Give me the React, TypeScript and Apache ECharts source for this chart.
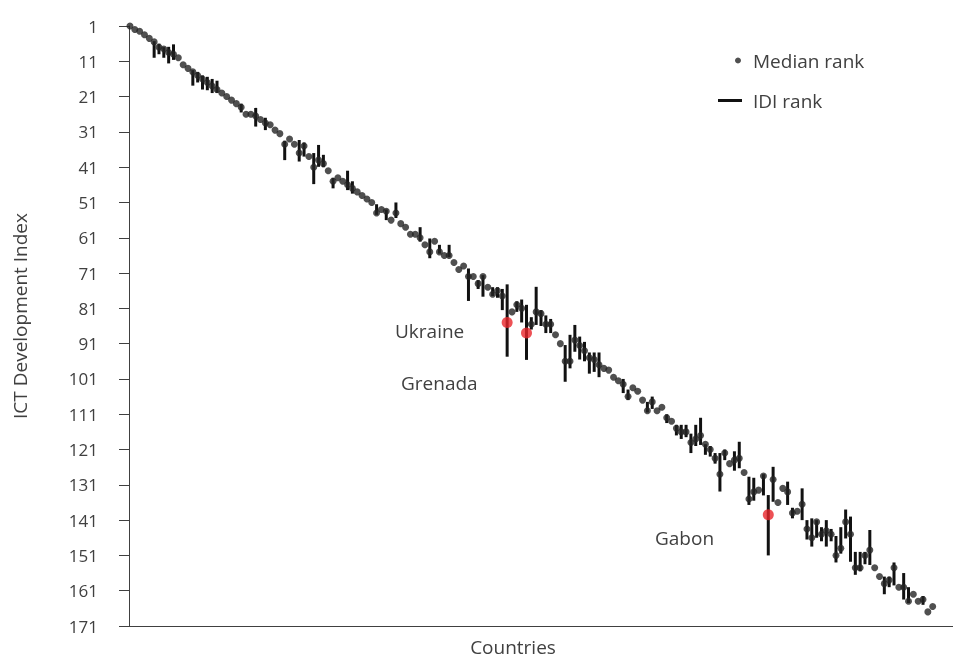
import React, { useEffect, useRef } from "react";
import * as echarts from "echarts";

// Median rank per country (countries ordered along the x axis)
const medianRank: number[] = [
  1, 2, 2.5, 3.5, 4.5, 5.5, 7, 7.5, 8.5, 9,
  10, 12, 13, 14, 15, 16, 17, 18, 19, 20,
  21, 22, 23, 24, 26, 26, 26.5, 27.5, 28.5, 29,
  30.5, 31.5, 34.5, 33, 34.5, 37, 35, 38, 41, 39,
  40, 42, 45, 44, 45, 46, 47, 48, 49, 50,
  51, 54, 53, 53.5, 56, 54, 57, 58, 60, 60,
  61, 63, 65, 62, 65, 66, 66, 68, 70, 69,
  72, 72, 74, 72, 75, 77, 76, 77.5, 85, 82,
  80, 81, 88, 85.5, 82, 82.5, 85.5, 85.5, 88.5, 91,
  96, 96, 90, 91.5, 93, 95, 95.5, 97, 98, 98.5,
  100.5, 101.5, 102.5, 106, 103.5, 104.5, 107, 110, 107.5, 110,
  109, 112, 113, 115, 116, 116, 119, 118, 117, 119.5,
  121, 123.5, 128, 122, 125, 124, 123.5, 127.5, 135, 133,
  132.5, 128.5, 139.5, 129.5, 136, 132, 133, 139, 138.5, 136.5,
  143.5, 146, 141.5, 145, 144, 145, 151, 149, 141.5, 145,
  154.5, 154.5, 151, 149.5, 154.5, 157, 159, 158, 154.5, 160,
  160, 164, 162, 164, 163.5, 167, 165.5,
];

// IDI rank range (low / high) per country, null when no bar is drawn
const idiLow: (number | null)[] = [
  null, null, null, null, null, 5.3, 6, 7, 6.9, 6.2,
  null, null, null, 13.5, 14, 15, 15.4, 16, 16.5, null,
  null, null, null, 23, null, null, 24.2, null, 27, null,
  null, null, 33.5, null, null, 33.3, 34, null, 37, 34.7,
  37.5, null, 44, null, null, 42, 45, null, null, null,
  null, 51.5, null, 53, null, 51, null, null, null, null,
  58, null, 61.2, null, 63, null, 63, null, null, null,
  69.7, null, 73, 71.6, null, 75, 75, 75.5, 74.2, null,
  79, 78.5, 80, 83.5, 74.9, 81.5, 83, 84, null, null,
  91.4, 88.5, 85.7, 89, 90.5, 93.5, 93.5, 93.5, null, null,
  null, null, 101, 104, null, null, null, 107.5, 106, null,
  null, 111, null, 114, 114, 114, 116.5, 114, 112, 119.5,
  120, 122, 122, 121, null, 121.5, 118.8, null, 128.7, 129,
  null, 128, 133.9, 125.9, null, null, 130.1, 137.5, null, 132,
  141, 140.5, 141, 143, 141, 143.5, 145.5, 143, 138, 140,
  150, 150, 150, 143.8, null, null, 157, 157, 153, null,
  156, 160, null, null, 162.5, null, null,
];
const idiHigh: (number | null)[] = [
  null, null, null, null, null, 10, 9, 10, 11.6, 10.6,
  null, null, null, 17.9, 17, 19, 19.2, 20, 20, null,
  null, null, null, 25.5, null, null, 29.5, null, 30.5, null,
  null, null, 39, null, null, 39.4, 38, null, 45.8, 40.9,
  41, null, 47, null, null, 47.5, 48.5, null, null, null,
  null, 54.5, null, 56, null, 55.4, null, null, null, null,
  62.1, null, 66.8, null, 65.5, null, 66.5, null, null, null,
  78.9, null, 75.5, 77.7, null, 77.5, 78, 81.5, 94.7, null,
  82, 85, 95.6, 87, 85.7, 86, 88, 88, null, null,
  101.8, 98, 93.3, 95.5, 96, 99.5, 99, 100.5, null, null,
  null, null, 105, 107, null, null, null, 110.5, 109.5, null,
  null, 113.5, null, 117, 118, 117.5, 122, 120, 119.7, 122.5,
  123, 125, 132.9, 124, null, 127, 126.3, null, 136.7, 135.5,
  null, 134, 151, 135.8, null, null, 136.7, 140.5, null, 141,
  146.5, 148.5, 146, 147, 148.5, 147, 153, 150.5, 146.2, 152.8,
  156.5, 155.5, 153.5, 153.7, null, null, 162, 160, 159.5, null,
  163.5, 164.5, null, null, 165, null, null,
];

// Highlighted countries (1-based position on the x axis)
const highlightNames: string[] = ["Ukraine", "Grenada", "Gabon"];
const highlightIndex: number[] = [79, 83, 133];

const yTickMin = 1;
const yTickMax = 171;
const yTickStep = 10;

const TEXT = "#404040";
const FONT = "Open Sans";

export default function App() {
  const ref = useRef<HTMLDivElement>(null);

  useEffect(() => {
    if (!ref.current) return;
    const chart = echarts.init(ref.current, undefined, { renderer: "svg" });

    const dots: number[][] = [];
    const reds: number[][] = [];
    const bars: number[][] = [];
    medianRank.forEach((m, k) => {
      const i = k + 1;
      if (highlightIndex.includes(i)) reds.push([i, m]);
      else dots.push([i, m]);
      const lo = idiLow[k];
      const hi = idiHigh[k];
      if (lo != null && hi != null) bars.push([i, lo, hi]);
    });

    const labelPos: Record<string, [number, number]> = {
      Ukraine: [395, 331],
      Grenada: [401, 383],
      Gabon: [655, 538],
    };

    const txt = { fontFamily: FONT, fontSize: 19, fontWeight: 400, fill: TEXT };

    chart.setOption({
      animation: false,
      textStyle: { fontFamily: FONT, color: TEXT },
      grid: { left: 129, right: 0, top: 26, bottom: 35, containLabel: false },
      xAxis: {
        type: "value",
        min: 0.8,
        max: 171.2,
        axisLine: { show: true, lineStyle: { color: TEXT, width: 1 } },
        axisTick: { show: false },
        axisLabel: { show: false },
        splitLine: { show: false },
      },
      yAxis: {
        type: "value",
        inverse: true,
        min: yTickMin,
        max: yTickMax,
        interval: yTickStep,
        axisLine: { show: true, lineStyle: { color: TEXT, width: 1 } },
        axisTick: { show: true, length: 10, lineStyle: { color: TEXT } },
        axisLabel: {
          margin: 31,
          color: TEXT,
          fontFamily: FONT,
          fontSize: 17,
          fontWeight: 400,
        },
        splitLine: { show: false },
      },
      legend: [
        {
          data: [{ name: "Median rank", icon: "circle" }],
          left: 735,
          top: 51,
          padding: 0,
          itemWidth: 6,
          itemHeight: 6,
          textStyle: { color: TEXT, fontFamily: FONT, fontSize: 19, fontWeight: 400, padding: [0, 0, 0, 7] },
        },
        {
          data: [{ name: "IDI rank", icon: "rect" }],
          left: 718,
          top: 91,
          padding: 0,
          itemWidth: 24,
          itemHeight: 3,
          textStyle: { color: TEXT, fontFamily: FONT, fontSize: 19, fontWeight: 400, padding: [0, 0, 0, 6] },
        },
      ],
      series: [
        {
          name: "IDI rank",
          type: "custom",
          z: 2,
          clip: false,
          itemStyle: { color: "#111111" },
          encode: { x: 0, y: [1, 2] },
          data: bars,
          renderItem: (_params: any, api: any) => {
            const x = api.value(0);
            const p1 = api.coord([x, api.value(1)]);
            const p2 = api.coord([x, api.value(2)]);
            return {
              type: "line",
              shape: { x1: p1[0], y1: p1[1], x2: p2[0], y2: p2[1] },
              style: { stroke: "#111111", lineWidth: 3 },
            };
          },
        },
        {
          name: "Median rank",
          type: "scatter",
          z: 3,
          clip: false,
          symbol: "circle",
          symbolSize: 7,
          itemStyle: { color: "#242424" },
          data: dots,
        },
        {
          name: "Highlighted",
          type: "scatter",
          z: 4,
          clip: false,
          symbol: "circle",
          symbolSize: 11,
          itemStyle: { color: "#e8262b" },
          data: reds,
        },
      ],
      graphic: [
        {
          type: "text",
          x: 20,
          y: 316,
          rotation: Math.PI / 2,
          style: { ...txt, text: "ICT Development Index", align: "center", verticalAlign: "middle" },
        },
        {
          type: "text",
          x: 513,
          y: 647,
          style: { ...txt, text: "Countries", align: "center", verticalAlign: "middle" },
        },
        ...highlightNames.map((n) => ({
          type: "text",
          x: labelPos[n][0],
          y: labelPos[n][1],
          style: { ...txt, text: n, align: "left", verticalAlign: "middle" },
        })),
      ],
    });

    return () => chart.dispose();
  }, []);

  return (
    <div
      ref={ref}
      style={{ position: "fixed", left: 0, top: 0, width: 953, height: 661 }}
    />
  );
}
